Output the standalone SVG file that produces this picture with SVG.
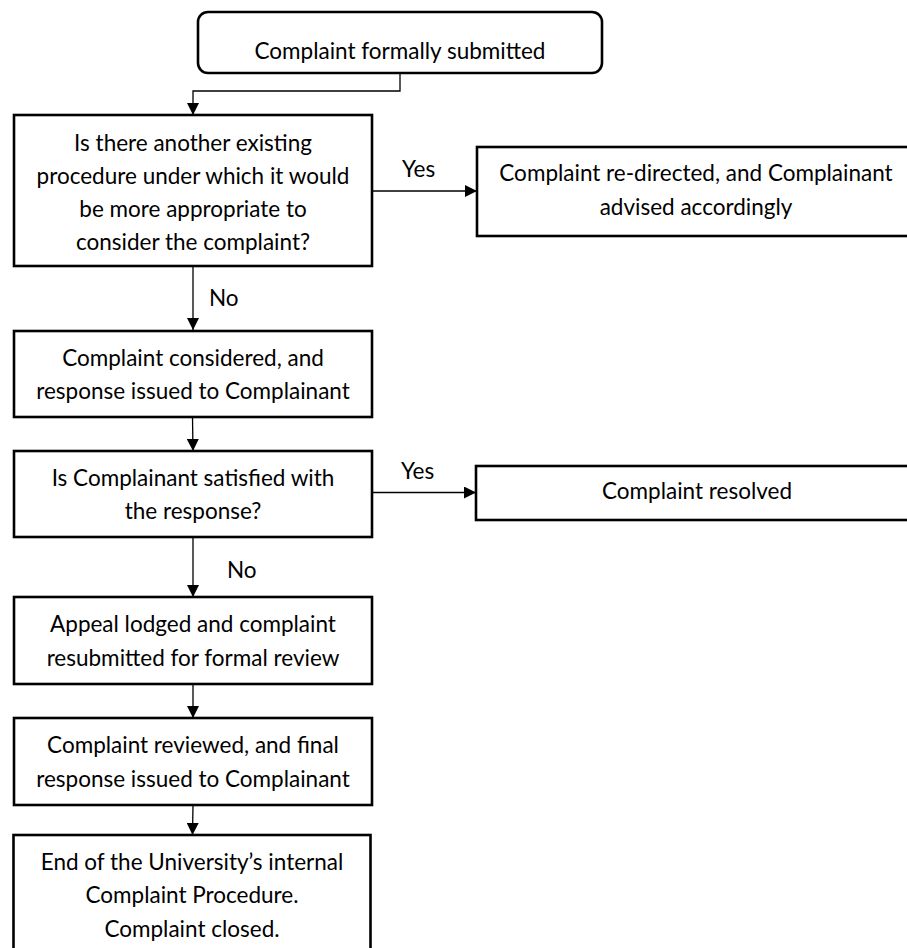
<svg xmlns="http://www.w3.org/2000/svg" width="907" height="948" viewBox="0 0 907 948">
<defs>
<style>
.box{fill:#fff;stroke:#000;stroke-width:2.6}
.t{font-family:Lato,"Open Sans",sans-serif;font-size:22.5px;fill:#000;text-anchor:middle}
.lbl{font-family:Lato,"Open Sans",sans-serif;font-size:22.5px;fill:#000}
.c{fill:none;stroke:#000;stroke-width:1.3}
</style>
<marker id="ah" markerWidth="12" markerHeight="12" viewBox="0 0 12 12" refX="12" refY="6" orient="auto" markerUnits="userSpaceOnUse">
<path d="M0,0 L12,6 L0,12 Z" fill="#000"/>
</marker>
</defs>
<rect width="907" height="948" fill="#fff"/>
<g id="connectors">
<polyline class="c" points="400,73 400,91 193,91 193,115" marker-end="url(#ah)"/>
<line class="c" x1="372" y1="191" x2="477" y2="191" marker-end="url(#ah)"/>
<line class="c" x1="193" y1="266" x2="193" y2="330" marker-end="url(#ah)"/>
<line class="c" x1="192.5" y1="417" x2="193" y2="451" marker-end="url(#ah)"/>
<line class="c" x1="372" y1="492.5" x2="476" y2="492.5" marker-end="url(#ah)"/>
<line class="c" x1="193" y1="537" x2="193" y2="597" marker-end="url(#ah)"/>
<line class="c" x1="193" y1="684" x2="193" y2="718" marker-end="url(#ah)"/>
<line class="c" x1="193" y1="805" x2="192.5" y2="835" marker-end="url(#ah)"/>
<text class="lbl" x="402" y="177">Yes</text>
<text class="lbl" x="209" y="306">No</text>
<text class="lbl" x="401" y="479">Yes</text>
<text class="lbl" x="227" y="578">No</text>
</g>
<g id="start">
<rect class="box" x="198" y="12" width="404" height="61" rx="10"/>
<text class="t" x="400" y="59">Complaint formally submitted</text>
</g>
<g id="q1">
<rect class="box" x="14" y="115" width="358" height="151"/>
<text class="t" x="193" y="151">Is there another existing</text>
<text class="t" x="193" y="184">procedure under which it would</text>
<text class="t" x="193" y="217">be more appropriate to</text>
<text class="t" x="193" y="250">consider the complaint?</text>
</g>
<g id="redirected">
<rect class="box" x="477" y="147" width="440" height="89"/>
<text class="t" x="696" y="181">Complaint re-directed, and Complainant</text>
<text class="t" x="696" y="215">advised accordingly</text>
</g>
<g id="considered">
<rect class="box" x="14" y="331" width="358" height="86"/>
<text class="t" x="193" y="366">Complaint considered, and</text>
<text class="t" x="193" y="399">response issued to Complainant</text>
</g>
<g id="q2">
<rect class="box" x="14" y="451" width="358" height="86"/>
<text class="t" x="193" y="486">Is Complainant satisfied with</text>
<text class="t" x="193" y="519">the response?</text>
</g>
<g id="resolved">
<rect class="box" x="476" y="466" width="441" height="54"/>
<text class="t" x="697" y="499">Complaint resolved</text>
</g>
<g id="appeal">
<rect class="box" x="14" y="597" width="358" height="87"/>
<text class="t" x="193" y="632">Appeal lodged and complaint</text>
<text class="t" x="193" y="666">resubmitted for formal review</text>
</g>
<g id="reviewed">
<rect class="box" x="14" y="718" width="358" height="87"/>
<text class="t" x="193" y="753">Complaint reviewed, and final</text>
<text class="t" x="193" y="787">response issued to Complainant</text>
</g>
<g id="end">
<rect class="box" x="13.5" y="835" width="357" height="125"/>
<text class="t" x="192" y="870">End of the University’s internal</text>
<text class="t" x="192" y="903">Complaint Procedure.</text>
<text class="t" x="192" y="937">Complaint closed.</text>
</g>
</svg>
